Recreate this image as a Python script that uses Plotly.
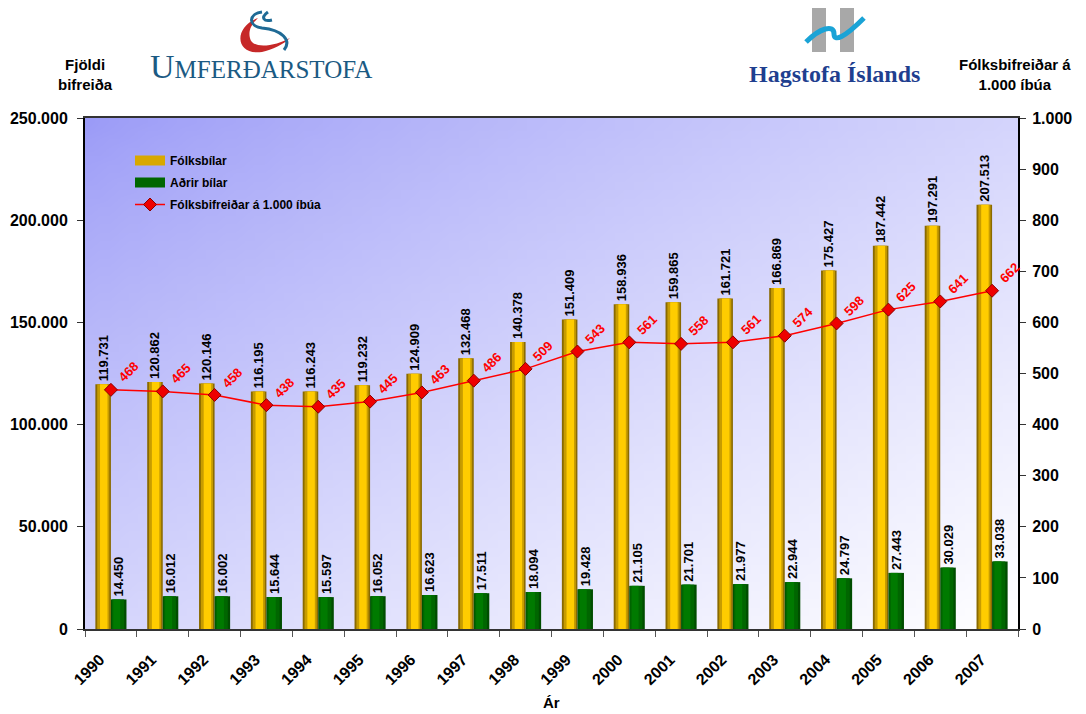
import base64, struct, zlib
import plotly.graph_objects as go

years = [str(y) for y in range(1990, 2008)]
folksbilar = [119731, 120862, 120146, 116195, 116243, 119232, 124909, 132468, 140378,
              151409, 158936, 159865, 161721, 166869, 175427, 187442, 197291, 207513]
adrir_bilar = [14450, 16012, 16002, 15644, 15597, 16052, 16623, 17511, 18094,
               19428, 21105, 21701, 21977, 22944, 24797, 27443, 30029, 33038]
per_1000 = [468, 465, 458, 438, 435, 445, 463, 486, 509, 543, 561, 558, 561, 574, 598, 625, 641, 662]

W, H = 1086, 714
L, R, T, B = 85, 1018, 118, 629
FONT = "Liberation Sans, Arial, sans-serif"


def px2paper(x, y):
    return (x - L) / (R - L), (B - y) / (B - T)


def gradient_png(w, h):
    c0 = (155, 155, 247)
    c1 = (255, 255, 255)
    rows = []
    for j in range(h):
        row = bytearray([0])
        for i in range(w):
            t = (i / (w - 1)) * 0.5 + (j / (h - 1)) * 0.5
            t = min(1.0, max(0.0, t ** 0.8))
            row += bytes(int(round(c0[k] + (c1[k] - c0[k]) * t)) for k in range(3))
        rows.append(bytes(row))
    raw = b"".join(rows)

    def chunk(tag, data):
        c = struct.pack(">I", len(data)) + tag + data
        return c + struct.pack(">I", zlib.crc32(tag + data) & 0xffffffff)

    png = b"\x89PNG\r\n\x1a\n" + chunk(b"IHDR", struct.pack(">IIBBBBB", w, h, 8, 2, 0, 0, 0))
    png += chunk(b"IDAT", zlib.compress(raw, 9)) + chunk(b"IEND", b"")
    return "data:image/png;base64," + base64.b64encode(png).decode()


fig = go.Figure()

BW = 0.30
gold_layers = [(0.0, 1.0, "#8a6a00"), (0.12, 0.78, "#c79c00"), (0.30, 0.48, "#ffcc00")]
green_layers = [(0.0, 1.0, "#004d00"), (0.05, 0.80, "#006600"), (0.15, 0.45, "#007a00")]


def add_series(values, name, start, layers, legend_color):
    for idx, (s, wf, col) in enumerate(layers):
        kw = {}
        if idx == 0:
            kw = dict(text=values, texttemplate="%{y:,}", textposition="outside",
                      textangle=-90, constraintext="none", cliponaxis=False,
                      outsidetextfont=dict(family=FONT, size=13, color="black", weight="bold"))
        fig.add_trace(go.Bar(
            x=years, y=values, name=name, width=BW * wf, offset=start + BW * s,
            marker=dict(color=col, line=dict(width=0)), showlegend=False, legendgroup=name,
            hoverinfo="skip" if idx else None, **kw))
    # legend sample (wide bar-like swatch)
    fig.add_trace(go.Scatter(x=[None], y=[None], mode="lines", name=name, legendgroup=name,
                             line=dict(color=legend_color, width=10)))


add_series(folksbilar, "Fólksbílar", -BW, gold_layers, "#d8a800")
add_series(adrir_bilar, "Aðrir bílar", 0.0, green_layers, "#006600")

fig.add_trace(go.Scatter(
    x=years, y=per_1000, name="Fólksbifreiðar á 1.000 íbúa", yaxis="y2", legendgroup="line",
    mode="lines+markers", line=dict(color="#ff0000", width=1.5),
    marker=dict(symbol="diamond", size=10, color="#ee0000", line=dict(color="#8b0000", width=1)),
    cliponaxis=False))

annotations = []
for i, v in enumerate(per_1000):
    annotations.append(dict(x=i, y=v, xref="x", yref="y2", text=str(v), textangle=-45,
                            showarrow=False, xanchor="left", yanchor="bottom", xshift=2, yshift=2,
                            font=dict(family=FONT, size=13, color="#ff0000", weight="bold")))

annotations += [
    dict(x=px2paper(85, 0)[0], y=px2paper(0, 75)[1], xref="paper", yref="paper",
         text="Fjöldi<br>bifreiða", showarrow=False, xanchor="center", yanchor="middle",
         font=dict(family=FONT, size=15, color="black", weight="bold")),
    dict(x=px2paper(1015, 0)[0], y=px2paper(0, 75)[1], xref="paper", yref="paper",
         text="Fólksbifreiðar á<br>1.000 íbúa", showarrow=False, xanchor="center", yanchor="middle",
         font=dict(family=FONT, size=15, color="black", weight="bold")),
    dict(x=px2paper(551, 0)[0], y=px2paper(0, 703)[1], xref="paper", yref="paper",
         text="Ár", showarrow=False, xanchor="center", yanchor="middle",
         font=dict(family=FONT, size=15, color="black", weight="bold")),
    dict(x=px2paper(148, 0)[0], y=px2paper(0, 87)[1], xref="paper", yref="paper",
         text="U<span style='font-size:25px'>MFERÐARSTOFA</span>", showarrow=False,
         xanchor="left", yanchor="bottom",
         font=dict(family="Liberation Serif, DejaVu Serif, serif", size=34, color="#1b5a83")),
    dict(x=px2paper(834, 0)[0], y=px2paper(0, 74)[1], xref="paper", yref="paper",
         text="Hagstofa Íslands", showarrow=False, xanchor="center", yanchor="middle",
         font=dict(family="Liberation Serif, DejaVu Serif, serif", size=24, color="#1f3f8f", weight="bold")),
]


def pp(x, y):
    a, b = px2paper(x, y)
    return f"{a:.4f},{b:.4f}"


shapes = [
    dict(type="rect", xref="paper", yref="paper",
         x0=px2paper(812, 0)[0], x1=px2paper(826, 0)[0], y0=px2paper(0, 52)[1], y1=px2paper(0, 8)[1],
         fillcolor="#a8a8a8", line=dict(width=0)),
    dict(type="rect", xref="paper", yref="paper",
         x0=px2paper(840, 0)[0], x1=px2paper(854, 0)[0], y0=px2paper(0, 52)[1], y1=px2paper(0, 8)[1],
         fillcolor="#a8a8a8", line=dict(width=0)),
    dict(type="path", xref="paper", yref="paper",
         path=f"M {pp(806, 42)} C {pp(820, 28)} {pp(834, 24)} {pp(834, 34)} "
              f"C {pp(834, 42)} {pp(844, 38)} {pp(864, 18)}",
         line=dict(color="#1aa3d6", width=5)),
    dict(type="path", xref="paper", yref="paper",
         path=f"M {pp(258, 18)} C {pp(232, 28)} {pp(236, 56)} {pp(262, 52)} "
              f"C {pp(272, 50)} {pp(284, 44)} {pp(290, 38)} "
              f"C {pp(276, 46)} {pp(252, 50)} {pp(250, 38)} C {pp(248, 30)} {pp(252, 24)} {pp(258, 18)} Z",
         fillcolor="#c62828", line=dict(width=0)),
    dict(type="path", xref="paper", yref="paper",
         path=f"M {pp(262, 12)} C {pp(248, 14)} {pp(248, 26)} {pp(262, 28)} "
              f"C {pp(282, 30)} {pp(292, 40)} {pp(284, 50)}",
         line=dict(color="#1f6a95", width=3)),
    dict(type="path", xref="paper", yref="paper",
         path=f"M {pp(268, 12)} C {pp(260, 18)} {pp(264, 22)} {pp(272, 20)}",
         line=dict(color="#1f6a95", width=3)),
]

fig.update_layout(
    width=W, height=H,
    margin=dict(l=L, r=W - R, t=T, b=H - B, pad=0),
    paper_bgcolor="white", plot_bgcolor="white",
    separators=",.",
    barmode="overlay",
    font=dict(family=FONT, color="black"),
    showlegend=True,
    legend=dict(x=px2paper(130, 0)[0], y=px2paper(0, 146)[1], xanchor="left", yanchor="top",
                bgcolor="rgba(0,0,0,0)", font=dict(family=FONT, size=12, color="black", weight="bold"),
                itemwidth=30, tracegroupgap=3),
    xaxis=dict(type="category", range=[-0.5, len(years) - 0.5], tickson="boundaries",
               ticks="outside", ticklen=6, tickcolor="#555", tickangle=-45,
               ticklabelshift=-11, ticklabelstandoff=13, automargin=False,
               tickfont=dict(family=FONT, size=16, color="black", weight="bold"),
               showline=True, linecolor="#333", linewidth=2, mirror=True, showgrid=False, zeroline=False),
    yaxis=dict(range=[0, 250000], dtick=50000, tickformat=",d", ticks="outside", ticklen=6,
               tickcolor="#333", showline=True, linecolor="black", linewidth=2, showgrid=False,
               zeroline=False, automargin=False, ticklabelstandoff=6,
               tickfont=dict(family=FONT, size=16, color="black", weight="bold")),
    yaxis2=dict(range=[0, 1000], dtick=100, tickformat=",d", overlaying="y", side="right",
                ticks="outside", ticklen=6, tickcolor="#333", showline=True, linecolor="black",
                linewidth=2, showgrid=False, zeroline=False, automargin=False, ticklabelstandoff=3,
                tickfont=dict(family=FONT, size=16, color="black", weight="bold")),
    images=[dict(source=gradient_png(96, 60), xref="paper", yref="paper", x=0, y=1,
                 sizex=1, sizey=1, sizing="stretch", layer="below", xanchor="left", yanchor="top")],
    annotations=annotations,
    shapes=shapes,
)

fig.write_html("out.html", config={"displayModeBar": False},
               post_script="document.body.style.margin='0px';")
